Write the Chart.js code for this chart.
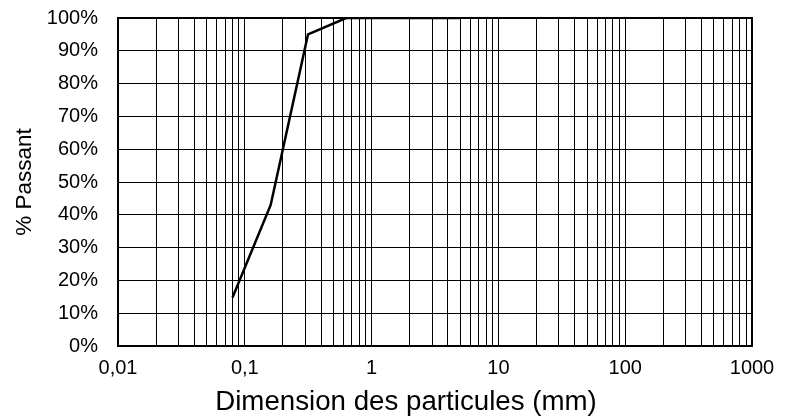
<!DOCTYPE html>
<html>
<head>
<meta charset="utf-8">
<script src="https://cdn.jsdelivr.net/npm/chart.js@4/dist/chart.umd.min.js"></script>
<style>
  html, body { margin: 0; padding: 0; background: #fff; }
  #wrap { width: 787px; height: 417px; }
</style>
</head>
<body>
<div id="wrap"><canvas id="granuloChart"></canvas></div>
<script>
// sieve sizes (mm) and % passing
const tailles = [0.08, 0.16, 0.315, 0.63, 1.25, 2.5, 5];
const passant = [14.8, 43, 95, 100, 100, 100, 100];

// decade ticks and their labels
const decades = [0.01, 0.1, 1, 10, 100, 1000];
const decadeLabels = ['0,01', '0,1', '1', '10', '100', '1000'];
const yTicks = [0, 10, 20, 30, 40, 50, 60, 70, 80, 90, 100];

const xTitle = 'Dimension des particules (mm)';

const points = tailles.map((t, i) => ({x: t, y: passant[i]}));

const font = 'Liberation Sans, Arial, sans-serif';

// frame around the plot area + x axis title (sits a bit left of the plot centre)
const cadre = {
  id: 'cadre',
  afterDraw(chart) {
    const {ctx, chartArea: a} = chart;
    ctx.save();
    ctx.strokeStyle = '#000';
    ctx.lineWidth = 2;
    ctx.strokeRect(a.left, a.top, a.right - a.left, a.bottom - a.top);
    ctx.fillStyle = '#000';
    ctx.font = '27.7px ' + font;
    ctx.textAlign = 'center';
    ctx.textBaseline = 'alphabetic';
    ctx.fillText(xTitle, 406, 410);
    ctx.restore();
  }
};

new Chart(document.getElementById('granuloChart'), {
  type: 'scatter',
  data: {
    datasets: [{
      data: points,
      showLine: true,
      borderColor: '#000',
      borderWidth: 2.5,
      pointRadius: 0,
      tension: 0
    }]
  },
  options: {
    responsive: true,
    maintainAspectRatio: false,
    animation: false,
    layout: { padding: { top: 18, right: 35, left: 11, bottom: 0.5 } },
    plugins: { legend: { display: false }, tooltip: { enabled: false } },
    scales: {
      x: {
        type: 'logarithmic',
        min: 0.01,
        max: 1000,
        afterBuildTicks(axis) {
          const ticks = [];
          decades.forEach((d, i) => {
            if (i === decades.length - 1) {
              ticks.push({value: d});
              return;
            }
            for (let k = 1; k <= 9; k++) ticks.push({value: +(d * k).toPrecision(3)});
          });
          axis.ticks = ticks;
        },
        afterFit(axis) {
          axis.paddingLeft = 0;
          axis.paddingRight = 0;
          axis.height = 70.5;
        },
        grid: { color: '#000', lineWidth: 1, drawTicks: false },
        border: { display: false },
        ticks: {
          autoSkip: false,
          maxRotation: 0,
          padding: 10,
          color: '#000',
          font: { family: font, size: 20 },
          callback(v) {
            const i = decades.findIndex(d => Math.abs(d - v) / d < 1e-6);
            return i >= 0 ? decadeLabels[i] : '';
          }
        }
      },
      y: {
        min: 0,
        max: 100,
        afterBuildTicks(axis) {
          axis.ticks = yTicks.map(v => ({value: v}));
        },
        afterFit(axis) {
          axis.paddingTop = 0;
          axis.paddingBottom = 0;
          axis.width = 107;
        },
        grid: { color: '#000', lineWidth: 1, drawTicks: false },
        border: { display: false },
        ticks: {
          padding: 20,
          color: '#000',
          font: { family: font, size: 20 },
          callback: v => v + '%'
        },
        title: {
          display: true,
          text: '% Passant',
          color: '#000',
          font: { family: font, size: 22.5 },
          padding: { top: 0, bottom: 8 }
        }
      }
    }
  },
  plugins: [cadre]
});
</script>
</body>
</html>
